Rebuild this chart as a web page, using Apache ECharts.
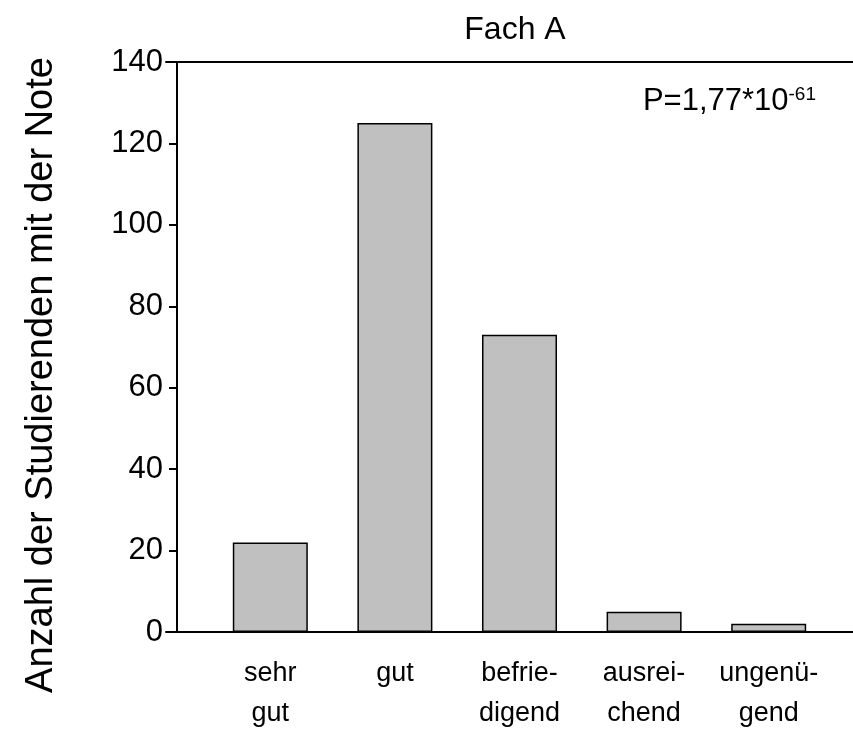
<!DOCTYPE html>
<html><head><meta charset="utf-8">
<script src="https://cdn.jsdelivr.net/npm/echarts@6/dist/echarts.min.js"></script>
<style>html,body{margin:0;padding:0;background:#fff}#c{width:853px;height:741px}</style>
</head><body><div id="c"></div>
<script>
const categories = ['sehr\ngut', 'gut', 'befrie-\ndigend', 'ausrei-\nchend', 'ungenü-\ngend'];
const counts = [22, 125, 73, 5, 2];
const yTicks = { min: 0, max: 140, interval: 20 };
const titleText = 'Fach A';
const yName = 'Anzahl der Studierenden mit der Note';
const pMain = 'P=1,77*10';
const pExp = '-61';

const FONT = '"Liberation Sans", Arial, sans-serif';
const chart = echarts.init(document.getElementById('c'));
chart.setOption({
  animation: false,
  backgroundColor: '#fff',
  textStyle: { fontFamily: FONT },
  title: [
    { text: titleText, left: 510, top: 9, textAlign: 'center',
      textStyle: { fontFamily: FONT, fontSize: 32, fontWeight: 'normal', color: '#000' } },
    { text: '{a|' + pMain + '}{b|' + pExp + '}', right: 32, top: 80,
      textStyle: { fontWeight: 'normal', rich: {
        a: { fontFamily: FONT, fontSize: 31, fontWeight: 'normal', color: '#000' },
        b: { fontFamily: FONT, fontSize: 19, fontWeight: 'normal', color: '#000', verticalAlign: 'top', padding: [0,0,14,0] }
      } } }
  ],
  graphic: [
    { type: 'text', x: 42, y: 375, rotation: Math.PI / 2,
      style: { text: yName, fontFamily: FONT, fontSize: 38, fill: '#000', align: 'center', verticalAlign: 'middle' } }
  ],
  grid: [
    { left: 208, width: 623, top: 62, height: 570 },
    { left: 166, right: 0, top: 62, height: 570 }
  ],
  xAxis: [
    { type: 'category', gridIndex: 0, data: categories,
      axisLine: { show: false }, axisTick: { show: false },
      axisLabel: { color: '#000', fontFamily: FONT, fontSize: 27, lineHeight: 40, margin: 22, interval: 0, hideOverlap: false } },
    { type: 'value', gridIndex: 1, position: 'bottom', min: 0, max: 1,
      axisLine: { show: true, lineStyle: { color: '#000', width: 2 } },
      axisTick: { show: false }, axisLabel: { show: false }, splitLine: { show: false } },
    { type: 'value', gridIndex: 1, position: 'top', min: 0, max: 1,
      axisLine: { show: true, lineStyle: { color: '#000', width: 2 } },
      axisTick: { show: false }, axisLabel: { show: false }, splitLine: { show: false } }
  ],
  yAxis: [
    { type: 'value', gridIndex: 0, min: yTicks.min, max: yTicks.max, interval: yTicks.interval,
      offset: 31,
      axisLine: { show: true, lineStyle: { color: '#000', width: 2 } },
      axisTick: { show: true, length: 8, lineStyle: { color: '#000', width: 2 } },
      axisLabel: { color: '#000', fontFamily: FONT, fontSize: 31, margin: 14, showMinLabel: true, showMaxLabel: true },
      splitLine: { show: false } },
    { type: 'value', gridIndex: 1, min: 0, max: 1, show: false }
  ],
  series: [{
    type: 'bar', xAxisIndex: 0, yAxisIndex: 0, data: counts, barWidth: 75,
    itemStyle: { color: '#c0c0c0', borderColor: '#000', borderWidth: 1.5 }
  }]
});
</script>
</body></html>
